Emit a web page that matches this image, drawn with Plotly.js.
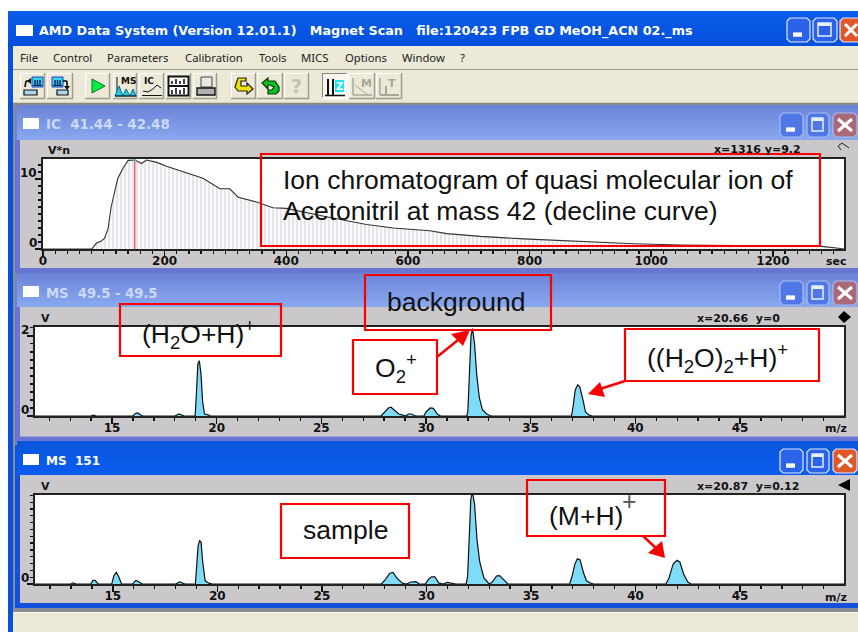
<!DOCTYPE html>
<html>
<head>
<meta charset="utf-8">
<script src="https://cdn.plot.ly/plotly-3.0.1.min.js"></script>
<style>html,body{margin:0;padding:0;background:#fff}#c{width:858px;height:632px}</style>
</head>
<body>
<div id="c"></div>
<script>
// ---------- data ----------
const icTime = [0,80,88,96,101,107,112,118,123,132,140,151,162,170,186,203,236,263,291,307,321,351,378,400,466,532,576,636,664,719,790,862,923,972,1049,1142,1186,1280,1305,1317];
const icSignal = [0,0,0.85,1.15,1.5,2.9,6.0,8.4,10.1,11.6,12.65,12.7,12.2,12.7,12.4,11.8,10.9,10.1,8.6,8.6,7.4,6.7,5.9,5.8,4.6,3.5,3.0,2.6,2.2,1.8,1.45,1.15,0.9,0.75,0.58,0.52,0.43,0.38,0.14,0];
const msWaterMz = [11.3,14.0,14.1,14.25,16.0,16.13,16.22,16.45,18.0,18.2,18.45,18.97,19.03,19.1,19.17,19.25,19.33,19.42,19.6,19.7,27.85,28.0,28.2,28.33,28.5,28.7,28.9,29.05,29.15,29.3,29.5,29.9,30.0,30.2,30.35,30.55,30.7,31.95,32.0,32.08,32.15,32.22,32.32,32.42,32.55,32.7,32.9,33.1,36.95,37.03,37.13,37.25,37.35,37.5,37.62,37.8,37.95,50];
const msWaterV = [0,0,0.02,0,0,0.07,0.08,0,0,0.05,0,0,0.55,1.3,1.38,1.05,0.35,0.05,0.03,0,0,0.08,0.2,0.22,0.14,0.05,0.02,0,0.05,0.05,0,0,0.1,0.2,0.19,0.04,0,0,0.12,1.0,2.0,2.18,1.8,1.05,0.45,0.15,0.05,0,0,0.25,0.65,0.78,0.72,0.4,0.1,0.02,0,0];
const msSampleMz = [11.3,13.0,13.1,13.25,13.95,14.05,14.15,14.3,14.95,15.05,15.17,15.27,15.42,15.95,16.1,16.2,16.4,18.0,18.2,18.45,18.95,19.02,19.08,19.15,19.22,19.3,19.42,19.6,19.75,27.85,28.05,28.25,28.4,28.6,28.85,29.05,29.25,29.5,29.65,29.95,30.1,30.25,30.4,30.6,30.8,31.0,31.15,31.4,31.9,31.97,32.05,32.12,32.2,32.3,32.42,32.55,32.75,33.0,33.15,33.35,33.5,33.7,33.9,36.85,36.97,37.1,37.22,37.35,37.5,37.65,37.85,38.0,40.75,40.9,41.2,41.35,41.45,41.6,41.8,41.98,42.12,42.3,42.5,42.65,42.95,43.1,43.45,43.6,50];
const msSampleV = [0,0,0.03,0,0,0.09,0.09,0,0,0.2,0.29,0.2,0,0,0.09,0.07,0,0,0.05,0,0,0.5,0.95,1.08,1.05,0.55,0.08,0.02,0,0,0.12,0.27,0.29,0.14,0.02,0,0.05,0.06,0,0,0.12,0.18,0.18,0.02,0,0.04,0.03,0,0,0.2,1.2,2.1,2.3,2.0,1.1,0.55,0.15,0,0.05,0.2,0.21,0.1,0,0,0.2,0.5,0.63,0.6,0.3,0.08,0.02,0,0,0.01,0.01,0,0,0.15,0.5,0.59,0.55,0.25,0.05,0,0,0.01,0.01,0,0];
const icTickVals = [0,200,400,600,800,1000,1200];
const msTickVals = [15,20,25,30,35,40,45];
const icYTicks = [0,10];
const msWaterYTicks = [0,2];
const msSampleYTicks = [0];
const menuItems = ['File','Control','Parameters','Calibration','Tools','MICS','Options','Window','?'];
const appTitle = 'AMD Data System (Version 12.01.1)   Magnet Scan   file:120423 FPB GD MeOH_ACN 02._ms';

// ---------- pixel helpers (paper coordinates) ----------
const W = 858, H = 632;
const X = p => p / W, Y = p => 1 - p / H;
const shapes = [], annotations = [];
function rect(x0, y0, x1, y1, fill, layer) {
  shapes.push({type:'rect', xref:'paper', yref:'paper', x0:X(x0), x1:X(x1), y0:Y(y0), y1:Y(y1),
    fillcolor:fill, line:{width:0}, layer:layer || 'below'});
}
function frame(x0, y0, x1, y1, color, w, layer) {
  shapes.push({type:'rect', xref:'paper', yref:'paper', x0:X(x0), x1:X(x1), y0:Y(y0), y1:Y(y1),
    fillcolor:'rgba(0,0,0,0)', line:{width:w, color:color}, layer:layer || 'above'});
}
function poly(pts, fill, layer, lineColor, lw) {
  const d = pts.map((p, i) => (i ? 'L' : 'M') + X(p[0]) + ',' + Y(p[1])).join(' ') + ' Z';
  shapes.push({type:'path', xref:'paper', yref:'paper', path:d, fillcolor:fill,
    line:{width:lw || 0, color:lineColor || fill}, layer:layer || 'below'});
}
function seg(x0, y0, x1, y1, color, w, layer) {
  shapes.push({type:'line', xref:'paper', yref:'paper', x0:X(x0), x1:X(x1), y0:Y(y0), y1:Y(y1),
    line:{width:w, color:color}, layer:layer || 'below'});
}
function polyline(pts, color, w) {
  pts.reduce((a, b) => { seg(a[0], a[1], b[0], b[1], color, w); return b; });
}
function label(text, x, y, font, anchor, extra) {
  annotations.push(Object.assign({text:text, xref:'paper', yref:'paper', x:X(x), y:Y(y), showarrow:false,
    xanchor:anchor || 'left', yanchor:'middle', font:font, borderpad:0}, extra || {}));
}
function band(x0, y0, x1, y1, top, bottom) {
  const c = s => [parseInt(s.slice(1,3),16), parseInt(s.slice(3,5),16), parseInt(s.slice(5,7),16)];
  const a = c(top), b = c(bottom), n = Math.ceil((y1 - y0) / 2);
  for (let i = 0; i < n; i++) {
    const t = n > 1 ? i / (n - 1) : 0;
    const m = a.map((v, k) => Math.round(v + (b[k] - v) * t));
    rect(x0, y0 + i * 2, x1, Math.min(y0 + i * 2 + 2.2, y1), 'rgb(' + m.join(',') + ')');
  }
}
function rounded(x0, y0, x1, y1, r, fill, edge) {
  poly([[x0+r,y0],[x1-r,y0],[x1,y0+r],[x1,y1-r],[x1-r,y1],[x0+r,y1],[x0,y1-r],[x0,y0+r]], fill, 'below', edge, 1.2);
}

// ---------- window chrome ----------
const titleFont = {family:'DejaVu Sans', size:12.75, color:'#ffffff', weight:700};
const menuFont = {family:'Noto Sans', size:11.3, color:'#222222'};
const tickFont = {family:'DejaVu Sans', size:12, color:'#111111', weight:700};
const smallBold = {family:'DejaVu Sans', size:11, color:'#111111', weight:700};
const noteFont = {family:'Liberation Sans', size:26.5, color:'#111111'};
const iconDark = '#111111';

rect(8, 12, W, H, '#8c8c94');               // main window ground
rect(8, 12, 13, H, '#0a50d8');
band(8, 11, W, 46, '#0a5ce8', '#0450dc');
rect(13, 46, W, 69, '#ece9d8');
seg(13, 69.5, W, 69.5, '#a09c90', 1);
rect(13, 70, W, 103, '#ece9d8');
seg(13, 103.5, W, 103.5, '#8c8878', 1.5);

function winButtons(y0, y1, xs, active) {
  const face = active ? '#2a62e8' : '#4f78e6', edge = active ? '#dfe8ff' : '#a8bcf0';
  const closeFace = active ? '#e0582a' : '#ab6878';
  [[xs[0], xs[1], face], [xs[2], xs[3], face], [xs[4], xs[5], closeFace]].forEach(b => {
    rounded(b[0], y0, b[1], y1, 3, b[2], edge);
  });
  const h = y1 - y0;
  rect(xs[0] + 6, y0 + h * 0.6, xs[0] + 15, y0 + h * 0.78, '#ffffff');
  frame(xs[2] + 5, y0 + 5, xs[3] - 6, y1 - 6, '#e8eeff', 1.5, 'below');
  rect(xs[2] + 5, y0 + 5, xs[3] - 6, y0 + 8, '#e8eeff');
  seg(xs[4] + 5, y0 + 6, Math.min(xs[5] - 5, W - 1), y1 - 6, '#ffffff', 3);
  seg(xs[4] + 5, y1 - 6, Math.min(xs[5] - 5, W - 1), y0 + 6, '#ffffff', 3);
}
rect(16, 25, 33, 36, '#ffffff');
label(appTitle, 38, 31, titleFont);
winButtons(18, 42, [787, 810, 813, 837, 840, 862], true);

const menuX = [19, 52, 106, 184, 258, 300, 344, 401, 459];
menuItems.forEach((m, i) => label(m, menuX[i], 57, menuFont));

// toolbar buttons
const btnEdges = [[20,45],[47,73],[85,110],[113,137],[139,164],[166,191],[193,217],[231,256],[257,283],[284,309],[322,348],[349,375],[376,402]];
btnEdges.forEach((b, i) => {
  const sunk = i === 10;
  rect(b[0], 73, b[1], 99, sunk ? '#f8f6f0' : '#ece9d8');
  seg(b[0], 73.5, b[1], 73.5, sunk ? '#8a8678' : '#ffffff', 1);
  seg(b[0] + .5, 73, b[0] + .5, 99, sunk ? '#8a8678' : '#ffffff', 1);
  seg(b[0], 98.5, b[1], 98.5, sunk ? '#ffffff' : '#a09c90', 1.5);
  seg(b[1] - .5, 73, b[1] - .5, 99, sunk ? '#ffffff' : '#a09c90', 1.5);
});
// transfer icons
function screen(x) {
  rect(x, 77, x + 11, 87, '#38d4e8'); frame(x, 77, x + 11, 87, '#2040c0', 1, 'below');
  [x + 3, x + 5.5, x + 8].forEach(b => seg(b, 80, b, 85.5, '#102060', 1.4));
  seg(x + 1, 85.5, x + 10, 85.5, '#102060', 1);
}
screen(32); screen(52);
rect(24, 90, 37, 95, '#a8d8e8'); frame(24, 90, 37, 95, iconDark, 1.2, 'below');
rect(57, 90, 68, 95, '#a8d8e8'); frame(57, 90, 68, 95, iconDark, 1.2, 'below');
polyline([[30, 81],[26, 81],[25, 87]], iconDark, 1.6);
poly([[31, 78],[31, 84],[27, 81]], iconDark);
polyline([[63, 81],[67, 81],[67, 87]], iconDark, 1.6);
poly([[64, 86],[70, 86],[67, 90]], iconDark);
// play
poly([[92,79],[92,93],[105,86]], '#00f040', 'below', '#107020', 1);
// MS icon
seg(117, 77, 117, 96, iconDark, 1);
label('MS', 120, 80.5, {family:'DejaVu Sans', size:9, color:iconDark, weight:700});
poly([[115,96],[119,86],[123,96],[126,89],[130,96],[133,89],[136,96]], '#20c8e8', 'below', '#0a7090', 1);
seg(115, 96, 136, 96, iconDark, 1);
// IC icon
label('IC', 143, 80.5, {family:'DejaVu Sans', size:9, color:iconDark, weight:700});
polyline([[143,91],[148,92],[153,89],[157,85],[161,88]], iconDark, 1);
seg(142, 95.5, 162, 95.5, iconDark, 1);
// table icon
rect(168.5, 76.5, 188.5, 95.5, '#ffffff'); frame(168.5, 76.5, 188.5, 95.5, iconDark, 2, 'below');
seg(169, 86, 188, 86, iconDark, 2);
[172,176,180,184].forEach((x, i) => { seg(x, i % 2 ? 79 : 81, x, 84, iconDark, 1.6); seg(x, i % 2 ? 88 : 90, x, 94, iconDark, 1.6); });
// printer icon
poly([[201,77],[212,77],[212,87],[201,87]], '#e8e8e8', 'below', '#444444', 1);
poly([[197,88],[215,88],[215,95],[197,95]], '#b0b0b0', 'below', '#111111', 1.4);
// yellow and green arrows
poly([[238,78],[246,78],[246,81],[241,81],[241,86],[247,86],[247,83],[253,89],[247,94],[247,91],[238,91],[235,87]], '#f0e010', 'below', '#222222', 1.2);
poly([[276,94],[268,94],[268,90],[272,90],[274,87],[270,85],[268,85],[268,89],[262,83],[268,78],[268,81],[275,81],[279,87],[279,91]], '#10c020', 'below', '#0a3a0a', 1.2);
label('?', 296.5, 86, {family:'DejaVu Sans', size:19, color:'#c4c2b6', weight:700}, 'center');
// zoom / mass / time icons
seg(328, 79, 328, 95, iconDark, 2); seg(333, 79, 333, 95, iconDark, 2); seg(325, 95.5, 345, 95.5, iconDark, 1.5);
rect(335, 80, 344, 92, '#18e0f8');
label('Z', 339.5, 86, {family:'DejaVu Sans', size:10, color:'#ffffff', weight:700}, 'center');
label('M', 366, 83, {family:'DejaVu Sans', size:11, color:'#a8a698', weight:700}, 'center');
seg(353, 78, 353, 95, '#a8a698', 1.5); seg(353, 95, 372, 95, '#a8a698', 1.5); seg(355, 85, 368, 95, '#a8a698', 1);
label('T', 392, 83, {family:'DejaVu Sans', size:11, color:'#a8a698', weight:700}, 'center');
seg(380, 78, 380, 95, '#a8a698', 1.5); seg(380, 95, 399, 95, '#a8a698', 2);
seg(386, 86, 386, 95, '#a8a698', 2);

// child windows
function panel(top, barBottom, grayBottom, plotL, top1, bottom1, active, name, nameSize, btnY0, btnY1) {
  const c1 = active ? '#0a56dc' : '#6c84d8', c2 = active ? '#0a5cf0' : '#88a8ee';
  rect(15, top + 4, W, grayBottom + 5, active ? '#1450dc' : '#6a74d2');
  band(17, top, W, barBottom, c1, c2);
  rect(15, top + 4, 17, barBottom, c1);
  rect(20, barBottom, W, grayBottom, '#cbc8cb');
  rect(23, top + 13, 39, top + 24, '#ffffff');
  label(name, 45, top + 20, {family:'DejaVu Sans', size:nameSize, weight:700, color:active ? '#ffffff' : '#cbd9f8'});
  winButtons(btnY0, btnY1, [780, 803, 807, 829, 833, 857], active);
  rect(plotL, top1, 844, bottom1, '#ffffff');
}
panel(105, 140, 268, 43, 159, 249, false, 'IC  41.44 - 42.48', 13.4, 113, 137);
panel(273, 307, 436.5, 35, 327, 416, false, 'MS  49.5 - 49.5', 13.2, 281, 305);
panel(441, 475, 603, 35, 495, 584, true, 'MS  151', 12, 449, 473);
rect(13, 608, W, 612, '#8c8c94');
rect(13, 612, W, H, '#ece9d8');
seg(13, 612.5, W, 612.5, '#fbfaf4', 1);

// small labels in panels
label('V*n', 47, 151, smallBold);
label('V', 40, 318, smallBold);
label('V', 40, 486, smallBold);
label('x=1316 y=9.2', 713, 150, smallBold);
label('x=20.66  y=0', 696, 318, smallBold);
label('x=20.87  y=0.12', 696, 486, smallBold);
label('sec', 836, 261, smallBold, 'center');
label('m/z', 836, 429, smallBold, 'center');
label('m/z', 836, 597, smallBold, 'center');
seg(838, 146, 842, 143, '#222', 1, 'above'); seg(842, 143, 849, 148, '#222', 1, 'above');
seg(838, 146, 841, 150, '#222', 1, 'above');
poly([[844,311],[851,317],[844,323],[838,317]], '#000000');
poly([[838,485],[850,479],[850,491]], '#000000');

// ---------- callouts ----------
const red = '#fb0000';
frame(261, 154, 820, 246, red, 2.2);
frame(365, 275, 551, 330, red, 2.2);
frame(120, 304, 281, 356, red, 2.2);
frame(353, 340, 437, 394, red, 2.2);
frame(625, 329, 819, 381, red, 2.2);
frame(281, 504, 409, 558, red, 2.2);
frame(527, 480, 665, 536, red, 2.2);
seg(437, 357, 458, 340, red, 2.5, 'above');
poly([[470,330],[451,334],[463,346]], red, 'above');
seg(625, 381, 600, 389, red, 2.5, 'above');
poly([[588,394],[600,382],[605,397]], red, 'above');
seg(643, 536, 657, 549, red, 2.5, 'above');
poly([[665,558],[648,553],[662,541]], red, 'above');

label('Ion chromatogram of quasi molecular ion of', 282, 180, noteFont);
label('Acetonitril at mass 42 (decline curve)', 282, 211, noteFont);
label('background', 386, 302, noteFont);
label('(H<sub>2</sub>O+H)<sup>+</sup>', 141, 334, noteFont);
label('O<sub>2</sub><sup>+</sup>', 374, 368, noteFont);
label('((H<sub>2</sub>O)<sub>2</sub>+H)<sup>+</sup>', 646, 358, noteFont);
label('sample', 302, 530, noteFont);
label('(M+H)', 548, 516, noteFont);
label('+', 629, 501, {family:'Liberation Sans', size:25, color:'#555555'}, 'center');

// ---------- y tick labels sit just above their ticks ----------
function yTickLabels(vals, axis, rightEdge) {
  vals.forEach(v => annotations.push({text:String(v), xref:'paper', yref:axis, x:X(rightEdge), y:v, yshift:6,
    xanchor:'right', yanchor:'middle', showarrow:false, font:tickFont, borderpad:0}));
}
yTickLabels(icYTicks, 'y', 38);
yTickLabels(msWaterYTicks, 'y2', 30);
yTickLabels(msSampleYTicks, 'y3', 30);

// ---------- traces ----------
const blueFill = '#7fdcf8';
const traces = [
  {x:icTime, y:icSignal, xaxis:'x', yaxis:'y', mode:'lines', line:{color:'#333333', width:1.1},
   fill:'tozeroy', fillcolor:'#fafafc', fillpattern:{shape:'|', size:4, solidity:0.45, fgcolor:'#e4e3e8', bgcolor:'#fafafc'}, hoverinfo:'skip'},
  {x:msWaterMz, y:msWaterV, xaxis:'x2', yaxis:'y2', mode:'lines', line:{color:'#111111', width:1.2},
   fill:'tozeroy', fillcolor:blueFill, hoverinfo:'skip'},
  {x:msSampleMz, y:msSampleV, xaxis:'x3', yaxis:'y3', mode:'lines', line:{color:'#111111', width:1.2},
   fill:'tozeroy', fillcolor:blueFill, hoverinfo:'skip'}
];
// cursor in chromatogram
shapes.push({type:'line', xref:'x', yref:'y', x0:151, x1:151, y0:0, y1:12.8, line:{color:'#d8202a', width:1}, layer:'above'});
shapes.push({type:'line', xref:'x', yref:'y', x0:149, x1:153, y0:12.7, y1:12.7, line:{color:'#30d8e8', width:1.5}, layer:'above'});

function step(vals) { return vals.length > 1 ? vals[1] - vals[0] : 5; }
function xAxis(domainL, range, vals, minorStep, anchor) {
  return {domain:[X(domainL), X(844)], range:range, anchor:anchor, tickmode:'linear', tick0:vals[0], dtick:step(vals),
    ticks:'outside', ticklen:6, tickwidth:1.5, tickcolor:'#111111', tickfont:tickFont,
    ticklabelstandoff:-6,
    minor:{tickmode:'linear', tick0:vals[0], dtick:minorStep, ticks:'outside', ticklen:3, tickwidth:1.3, tickcolor:'#111111', showgrid:false},
    showline:true, linecolor:'#222222', linewidth:1.6, mirror:true, showgrid:false, zeroline:false, fixedrange:true};
}
function yAxis(top, bottom, range, vals, minorStep, anchor) {
  return {domain:[Y(bottom), Y(top)], range:range, anchor:anchor, tickmode:'linear', tick0:vals[0], dtick:step(vals),
    showticklabels:false, ticks:'outside', ticklen:6, tickwidth:1.5, tickcolor:'#111111',
    minor:{tickmode:'linear', tick0:vals[0], dtick:minorStep, ticks:'outside', ticklen:3, tickwidth:1.3, tickcolor:'#111111', showgrid:false},
    showline:true, linecolor:'#222222', linewidth:1.6, mirror:true, showgrid:false, zeroline:false, fixedrange:true};
}

const layout = {
  width:W, height:H, margin:{l:0, r:0, t:0, b:0}, showlegend:false,
  paper_bgcolor:'#ffffff', plot_bgcolor:'rgba(0,0,0,0)',
  xaxis:xAxis(43, [0, 1317], icTickVals, 20, 'y'),
  yaxis:yAxis(159, 249, [0, 12.85], icYTicks, 1, 'x'),
  xaxis2:xAxis(35, [11.32, 49.97], msTickVals, 1, 'y2'),
  yaxis2:yAxis(327, 416, [0, 2.22], msWaterYTicks, 0.2, 'x2'),
  xaxis3:xAxis(35, [11.28, 49.97], msTickVals, 1, 'y3'),
  yaxis3:yAxis(495, 584, [0, 2.22], msSampleYTicks, 0.17, 'x3'),
  shapes:shapes, annotations:annotations
};
Plotly.newPlot('c', traces, layout, {displayModeBar:false, staticPlot:true});
</script>
</body>
</html>
